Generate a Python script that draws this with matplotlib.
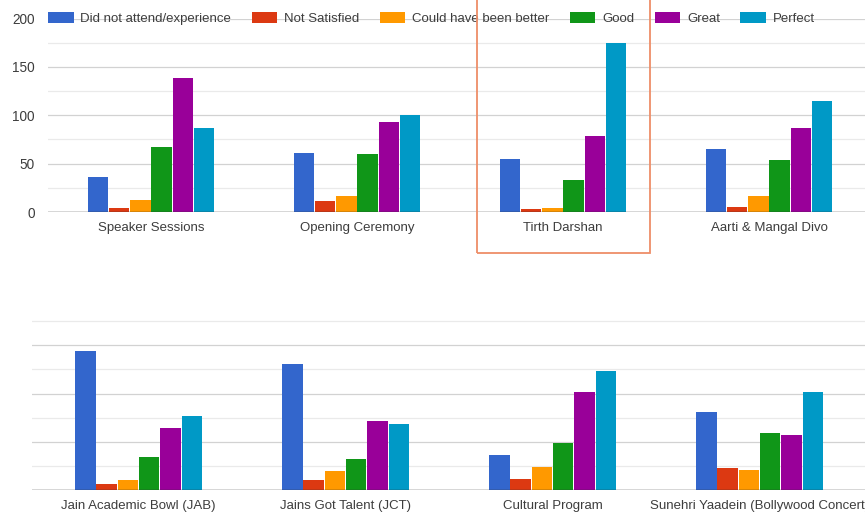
import numpy as np
import matplotlib
matplotlib.use("Agg")
import matplotlib.pyplot as plt
from matplotlib.patches import Rectangle

plt.rcParams["font.family"] = ["Liberation Sans", "DejaVu Sans"]

SERIES = ["Did not attend/experience", "Not Satisfied", "Could have been better",
          "Good", "Great", "Perfect"]
COLORS = ["#3366CC", "#DC3912", "#FF9900", "#109618", "#990099", "#0099C6"]

TOP_EVENTS = ["Speaker Sessions", "Opening Ceremony", "Tirth Darshan", "Aarti & Mangal Divo"]
top_did_not = [36, 61, 55, 65]
top_not_sat = [4, 11, 3, 5]
top_could = [12, 17, 4, 17]
top_good = [67, 60, 33, 54]
top_great = [138, 93, 79, 87]
top_perfect = [87, 100, 175, 115]

BOT_EVENTS = ["Jain Academic Bowl (JAB)", "Jains Got Talent (JCT)", "Cultural Program",
              "Sunehri Yaadein (Bollywood Concert)"]
bot_did_not = [144, 131, 36, 81]
bot_not_sat = [7, 11, 12, 23]
bot_could = [11, 20, 24, 21]
bot_good = [34, 32, 49, 59]
bot_great = [64, 72, 102, 57]
bot_perfect = [77, 69, 123, 102]

W, H = 865, 517
TXT = "#3d3d3d"


def draw_groups(ax, events, values):
  x = np.arange(len(events))
  slot = 0.618 / len(values)
  for i, vals in enumerate(values):
    off = (i - (len(values) - 1) / 2) * slot
    ax.bar(x + off, vals, width=slot * 0.96, color=COLORS[i], label=SERIES[i],
           zorder=3, linewidth=0)
  ax.set_xticks(x)
  ax.set_xticklabels(events, fontsize=9.5, color=TXT)
  ax.tick_params(axis="x", length=0, pad=7)
  for s in ax.spines.values():
    s.set_visible(False)
  ax.axhline(0, color="#333333", lw=1.0, zorder=4)


def grid(ax, top):
  for v in range(25, top + 1, 25):
    c = "#d2d2d2" if v % 50 == 0 else "#eaeaea"
    ax.axhline(v, color=c, lw=0.9, zorder=1)


fig = plt.figure(figsize=(W / 100, H / 100), dpi=100)

# top chart, ~206 px per group, 0.9675 px per unit
px = 193.5 / 200.0
ax1 = fig.add_axes([48 / W, (H - 212) / H, 1.02, 193.5 / H])
draw_groups(ax1, TOP_EVENTS,
            [top_did_not, top_not_sat, top_could, top_good, top_great, top_perfect])
ax1.set_xlim(-0.5, -0.5 + 1.02 * W / 206.0)
ax1.set_ylim(0, 200)
grid(ax1, 200)
ax1.set_yticks([0, 50, 100, 150, 200])
ax1.tick_params(axis="y", length=0, pad=9.5, labelsize=9.8, labelcolor=TXT)
ax1.legend(loc="center left", bbox_to_anchor=(0, 1.0), ncol=6, frameon=False,
           fontsize=9.5, borderpad=0, borderaxespad=0, handlelength=1.95,
           handleheight=0.85, handletextpad=0.5, columnspacing=1.55,
           labelcolor=TXT)

# bottom chart, same scale, y labels cut off in the screenshot
ax2 = fig.add_axes([32 / W, (H - 490.3) / H, 1.02, 185 * px / H])
draw_groups(ax2, BOT_EVENTS,
            [bot_did_not, bot_not_sat, bot_could, bot_good, bot_great, bot_perfect])
ax2.set_xlim(-0.515, -0.515 + 1.02 * W / 207.0)
ax2.set_ylim(0, 185)
grid(ax2, 175)
ax2.set_yticks([])

# highlight box round Tirth Darshan
fig.patches.append(Rectangle((477 / W, (H - 253) / H), 173 / W, 260 / H,
                             transform=fig.transFigure, fill=False,
                             edgecolor="#EE8E68", lw=1.3, zorder=10))

fig.savefig("out.png", dpi=100)
